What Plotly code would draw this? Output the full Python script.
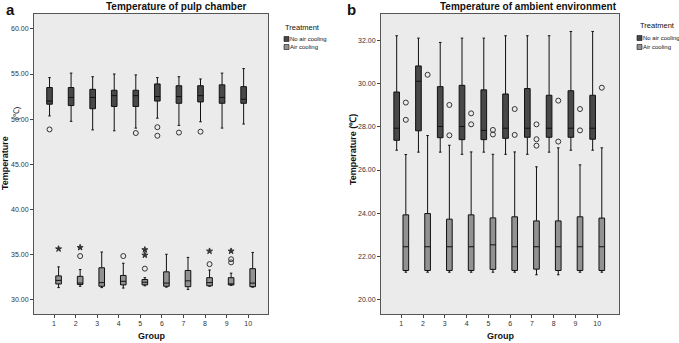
import plotly.graph_objects as go

W, H = 679, 343
groups = [1, 2, 3, 4, 5, 6, 7, 8, 9, 10]

# ---- Panel a: Temperature of pulp chamber ----
a_no_upper = [54.6, 55.1, 54.7, 55.0, 54.9, 54.6, 54.7, 54.45, 55.1, 55.6]
a_no_q3 = [53.5, 53.5, 53.3, 53.2, 53.2, 53.9, 53.7, 53.7, 53.8, 53.6]
a_no_med = [52.0, 52.4, 52.4, 52.6, 52.6, 52.5, 52.5, 52.6, 52.4, 52.2]
a_no_q1 = [51.65, 51.5, 51.15, 51.4, 51.4, 52.0, 51.75, 51.9, 51.75, 51.75]
a_no_lower = [50.35, 49.75, 48.8, 48.7, 49.0, 50.1, 49.3, 49.7, 49.0, 49.45]
a_no_out_g = [1, 5, 6, 6, 7, 8]
a_no_out_v = [48.85, 48.45, 49.1, 48.15, 48.5, 48.6]

a_air_upper = [33.6, 33.3, 35.25, 34.0, 32.4, 35.0, 34.65, 33.25, 32.9, 35.2]
a_air_q3 = [32.6, 32.55, 33.5, 32.65, 32.2, 33.05, 33.2, 32.4, 32.4, 33.4]
a_air_med = [32.1, 31.8, 31.85, 32.0, 31.9, 31.8, 32.05, 31.85, 31.7, 31.8]
a_air_q1 = [31.7, 31.65, 31.45, 31.6, 31.6, 31.45, 31.4, 31.5, 31.6, 31.4]
a_air_lower = [31.3, 31.45, 31.3, 31.25, 31.5, 31.35, 31.1, 31.45, 31.55, 31.35]
a_air_circ_g = [2, 4, 5, 8, 9, 9]
a_air_circ_v = [34.8, 34.8, 33.4, 33.9, 34.45, 34.1]
a_air_star_g = [1, 2, 5, 5, 8, 9]
a_air_star_v = [35.6, 35.75, 35.5, 34.9, 35.35, 35.35]

# ---- Panel b: Temperature of ambient environment ----
b_no_upper = [32.23, 32.12, 31.92, 32.12, 32.12, 32.23, 32.23, 32.23, 32.43, 32.43]
b_no_q3 = [29.62, 30.83, 29.87, 29.93, 29.72, 29.53, 29.78, 29.47, 29.68, 29.47]
b_no_med = [27.94, 30.12, 28.02, 28.02, 27.84, 27.94, 27.94, 27.94, 27.94, 27.94]
b_no_q1 = [27.38, 27.82, 27.5, 27.41, 27.41, 27.47, 27.52, 27.52, 27.52, 27.43]
b_no_lower = [26.92, 26.83, 26.83, 26.73, 26.83, 26.73, 26.73, 26.83, 26.92, 26.92]
b_no_out_g = [1, 1, 2, 3, 3, 4, 4, 5, 5, 6, 6, 7, 7, 7, 8, 8, 9, 9, 10]
b_no_out_v = [29.13, 28.33, 30.42, 29.02, 27.61, 28.63, 28.12, 27.86, 27.65,
              28.83, 27.63, 28.12, 27.43, 27.13, 29.22, 27.32, 28.83, 27.84, 29.82]

b_air_upper = [26.72, 27.6, 27.15, 26.84, 26.73, 26.84, 26.15, 27.03, 26.24, 27.03]
b_air_q3 = [23.92, 23.98, 23.72, 23.92, 23.78, 23.83, 23.64, 23.64, 23.83, 23.77]
b_air_med = [22.44, 22.44, 22.44, 22.44, 22.53, 22.44, 22.44, 22.44, 22.44, 22.44]
b_air_q1 = [21.34, 21.34, 21.34, 21.34, 21.39, 21.34, 21.4, 21.34, 21.34, 21.34]
b_air_lower = [21.26, 21.26, 21.26, 21.26, 21.26, 21.26, 21.14, 21.14, 21.26, 21.26]

y_ticks_a = [30, 35, 40, 45, 50, 55, 60]
y_ticks_b = [20, 22, 24, 26, 28, 30, 32]
treatments = ["No air cooling", "Air cooling"]

DARK = "#484848"
LIGHT = "#929292"
OFF = 0.21
BW = 0.26
FONT = "Arial, Liberation Sans, sans-serif"

fig = go.Figure()


def add_box(xa, ya, off, upper, q3, med, q1, lower, color):
    fig.add_trace(go.Box(
        x=[g + off for g in groups], upperfence=upper, q3=q3, median=med,
        q1=q1, lowerfence=lower, width=BW, whiskerwidth=0.45,
        fillcolor=color, line=dict(color="#111111", width=1),
        boxpoints=False, xaxis=xa, yaxis=ya, showlegend=False,
        hoverinfo="skip"))


def add_points(xa, ya, off, gs, vs, symbol, size):
    fig.add_trace(go.Scatter(
        x=[g + off for g in gs], y=vs, mode="markers",
        marker=dict(symbol=symbol, size=size, color="#333333",
                    line=dict(color="#333333", width=1)),
        xaxis=xa, yaxis=ya, showlegend=False, hoverinfo="skip"))


add_box("x", "y", -OFF, a_no_upper, a_no_q3, a_no_med, a_no_q1, a_no_lower, DARK)
add_box("x", "y", OFF, a_air_upper, a_air_q3, a_air_med, a_air_q1, a_air_lower, LIGHT)
add_points("x", "y", -OFF, a_no_out_g, a_no_out_v, "circle-open", 5)
add_points("x", "y", OFF, a_air_circ_g, a_air_circ_v, "circle-open", 5)
add_points("x", "y", OFF, a_air_star_g, a_air_star_v, "star", 4.5)

add_box("x2", "y2", -OFF, b_no_upper, b_no_q3, b_no_med, b_no_q1, b_no_lower, DARK)
add_box("x2", "y2", OFF, b_air_upper, b_air_q3, b_air_med, b_air_q1, b_air_lower, LIGHT)
add_points("x2", "y2", OFF, b_no_out_g, b_no_out_v, "circle-open", 5)


def px(x):
    return x / W


def py(y):
    return 1 - y / H


axis_common = dict(showgrid=False, zeroline=False, showline=True, mirror=True,
                   linecolor="#555555", linewidth=1, ticks="outside", ticklen=3,
                   tickcolor="#444444", tickfont=dict(size=7, color="#333333", family=FONT))

fig.update_layout(
    width=W, height=H, margin=dict(l=0, r=0, t=0, b=0),
    paper_bgcolor="white", plot_bgcolor="#ebebeb",
    font=dict(family=FONT),
    xaxis=dict(domain=[px(34), px(268)], range=[0.07, 10.92], anchor="y",
               tickvals=groups, ticktext=[str(g) for g in groups], **axis_common),
    yaxis=dict(domain=[py(314), py(14)], range=[28.37, 61.66], anchor="x",
               tickvals=y_ticks_a, ticktext=[f"{v:.2f}" for v in y_ticks_a], **axis_common),
    xaxis2=dict(domain=[px(381), px(619)], range=[0.07, 11.0], anchor="y2",
                tickvals=groups, ticktext=[str(g) for g in groups], **axis_common),
    yaxis2=dict(domain=[py(314), py(14)], range=[19.32, 33.24], anchor="x2",
                tickvals=y_ticks_b, ticktext=[f"{v:.2f}" for v in y_ticks_b], **axis_common),
)

ann = []


def text(x, y, s, size, bold=False, angle=0, xanchor="center"):
    ann.append(dict(x=px(x), y=py(y), xref="paper", yref="paper", text=(f"<b>{s}</b>" if bold else s),
                    showarrow=False, font=dict(size=size, color="#111111", family=FONT),
                    textangle=angle, xanchor=xanchor, yanchor="middle"))


text(10, 9, "a", 15, bold=True)
text(345, 9, "b", 15, bold=True, xanchor="left")
text(176, 6, "Temperature of pulp chamber", 10, bold=True)
text(528, 6, "Temperature of ambient environment", 10, bold=True)
text(151, 336, "Group", 9, bold=True)
text(500, 336, "Group", 9, bold=True)
text(5, 163, "Temperature", 9, bold=True, angle=-90)
text(16, 113, "(℃)", 8, angle=-90)
text(353, 150, "Temperature (℃)", 9, bold=True, angle=-90)

# legends
text(302, 28, "Treatment", 7.5)
text(288, 39, treatments[0], 6, xanchor="left")
text(288, 47, treatments[1], 6, xanchor="left")
text(657, 25, "Treatment", 7.5)
text(641, 38, treatments[0], 6, xanchor="left")
text(641, 47, treatments[1], 6, xanchor="left")

shapes = []
for (x0, y0, col) in [(284, 36.5, DARK), (284, 44.5, LIGHT), (637, 35.5, DARK), (637, 44.5, LIGHT)]:
    shapes.append(dict(type="rect", xref="paper", yref="paper", x0=px(x0), x1=px(x0 + 5),
                       y0=py(y0 + 5), y1=py(y0), fillcolor=col, line=dict(color="#111111", width=0.6)))

fig.update_layout(annotations=ann, shapes=shapes)
fig.write_html("out.html", config={"displayModeBar": False},
               post_script="document.body.style.margin='0';document.body.style.overflow='hidden';")
